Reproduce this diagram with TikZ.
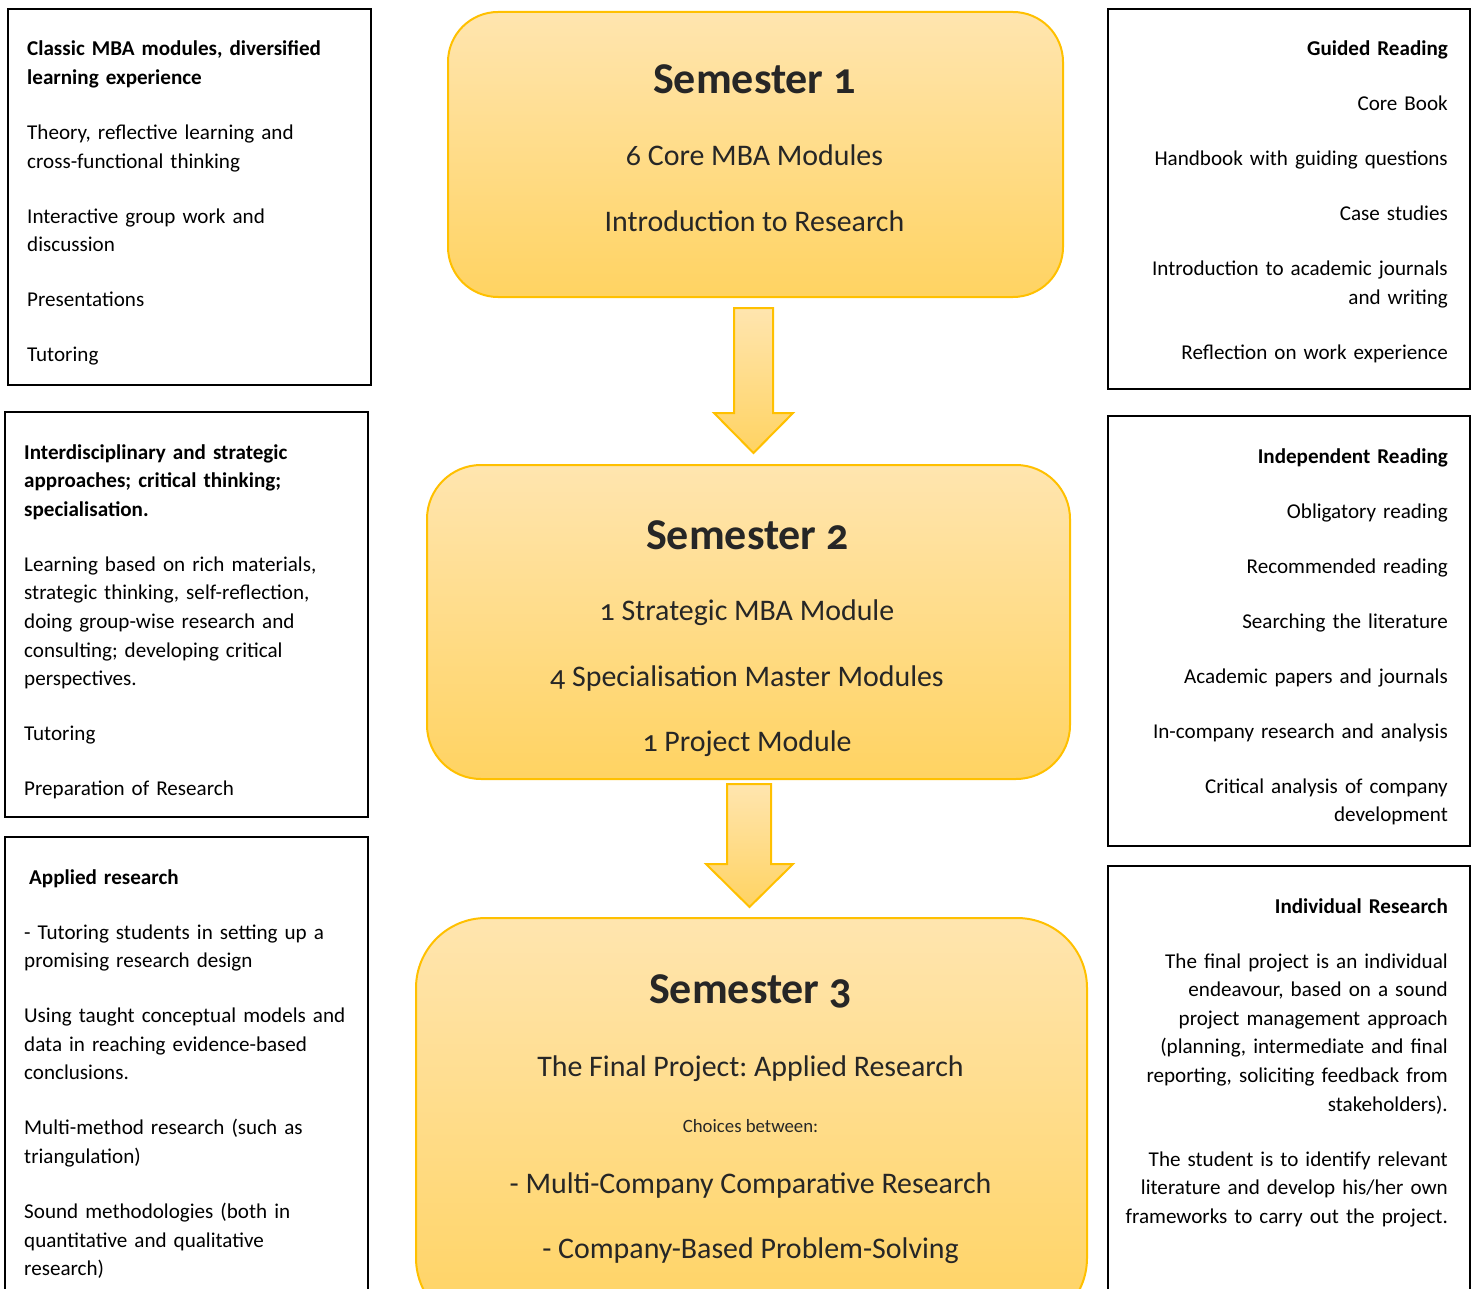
\documentclass[tikz,border=0pt]{standalone}
\usepackage{fontspec}
\setmainfont{Carlito}[Numbers=OldStyle]
\frenchspacing
\definecolor{gold}{RGB}{255,192,0}
\definecolor{gtop}{RGB}{255,229,175}
\definecolor{gbot}{RGB}{255,211,98}
\definecolor{ink}{RGB}{38,38,38}
\tikzset{
  boxst/.style={draw=black, line width=2pt, rectangle, inner sep=0pt, anchor=north west},
  semst/.style={draw=gold, line width=2pt, rectangle, top color=gtop, bottom color=gbot, inner sep=0pt, anchor=north west},
  arrowst/.style={draw=gold, line width=2pt, top color=gtop, bottom color=gbot, line join=miter},
  ltxt/.style={anchor=base west, inner sep=0pt, text width=340pt, align=left, font=\fontsize{21.1}{28.6}\selectfont, text=black},
  rtxt/.style={anchor=base east, inner sep=0pt, text width=335pt, align=right, font=\fontsize{21.1}{28.6}\selectfont, text=black},
  semtitle/.style={anchor=base, inner sep=0pt, font=\fontsize{44}{50}\selectfont\bfseries, text=ink},
  semline/.style={anchor=base, inner sep=0pt, font=\fontsize{29.9}{34}\selectfont, text=ink},
  semsmall/.style={anchor=base, inner sep=0pt, font=\fontsize{18.8}{22}\selectfont, text=ink}
}
\newcommand{\pgap}{\\[26.4pt]}
\begin{document}
\begin{tikzpicture}[x=1pt,y=-1pt]
\useasboundingbox[fill=white] (0,0) rectangle (1474,1289);

% left boxes
\node[boxst, minimum width=363pt, minimum height=376pt] (L1) at (7,8) {};
\node[boxst, minimum width=363pt, minimum height=405pt] (L2) at (4,411) {};
\node[boxst, minimum width=363pt, minimum height=470pt] (L3) at (4,836) {};
% right boxes
\node[boxst, minimum width=362pt, minimum height=380pt] (R1) at (1107,8) {};
\node[boxst, minimum width=362pt, minimum height=430pt] (R2) at (1107,415) {};
\node[boxst, minimum width=362pt, minimum height=440pt] (R3) at (1107,865) {};

% semester boxes
\node[semst, rounded corners=50pt, minimum width=615pt, minimum height=285pt] (S1) at (447,11) {};
\node[semst, rounded corners=54pt, minimum width=643pt, minimum height=314pt] (S2) at (426,464) {};
\node[semst, rounded corners=70pt, minimum width=671pt, minimum height=410pt] (S3) at (415,917) {};

% block arrows
\draw[arrowst] (734,308) -- (773,308) -- (773,413) -- (793,413) -- (753.5,453) -- (714,413) -- (734,413) -- cycle;
\draw[arrowst] (727,784) -- (771,784) -- (771,864) -- (793,864) -- (749.5,907) -- (706,864) -- (727,864) -- cycle;

% semester texts
\node[semtitle] (S1a) at (754.5,94) {Semester 1};
\node[semline] (S1b) at (754.5,166) {6 Core MBA Modules};
\node[semline] (S1c) at (754.5,232) {Introduction to Research};

\node[semtitle] (S2a) at (747.5,549) {Semester 2};
\node[semline] (S2b) at (747,620) {1 Strategic MBA Module};
\node[semline] (S2c) at (747,686) {4 Specialisation Master Modules};
\node[semline] (S2d) at (747,751) {1 Project Module};

\node[semtitle] (S3a) at (750.5,1003) {Semester 3};
\node[semline] (S3b) at (750.5,1076) {The Final Project: Applied Research};
\node[semsmall] (S3c) at (750.5,1132) {Choices between:};
\node[semline] (S3d) at (750.5,1193) {- Multi-Company Comparative Research};
\node[semline] (S3e) at (750.5,1258) {- Company-Based Problem-Solving};

% left texts
\node[ltxt] (L1t) at (27,56) {\textbf{Classic MBA modules, diversified}\\\textbf{learning experience}\pgap
Theory, reflective learning and\\cross-functional thinking\pgap
Interactive group work and\\discussion\pgap
Presentations\pgap
Tutoring};

\node[ltxt] (L2t) at (24,459) {\textbf{Interdisciplinary and strategic}\\\textbf{approaches; critical thinking;}\\\textbf{specialisation.}\pgap
Learning based on rich materials,\\strategic thinking, self-reflection,\\doing group-wise research and\\consulting; developing critical\\perspectives.\pgap
Tutoring\pgap
Preparation of Research};

\node[ltxt] (L3t) at (24,884) {\hspace*{5pt}\textbf{Applied research}\pgap
- Tutoring students in setting up a\\promising research design\pgap
Using taught conceptual models and\\data in reaching evidence-based\\conclusions.\pgap
Multi-method research (such as\\triangulation)\pgap
Sound methodologies (both in\\quantitative and qualitative\\research)};

% right texts
\node[rtxt] (R1t) at (1448,56) {\textbf{Guided Reading}\pgap
Core Book\pgap
Handbook with guiding questions\pgap
Case studies\pgap
Introduction to academic journals\\and writing\pgap
Reflection on work experience};

\node[rtxt] (R2t) at (1448,463) {\textbf{Independent Reading}\pgap
Obligatory reading\pgap
Recommended reading\pgap
Searching the literature\pgap
Academic papers and journals\pgap
In-company research and analysis\pgap
Critical analysis of company\\development};

\node[rtxt] (R3t) at (1448,913) {\textbf{Individual Research}\pgap
The final project is an individual\\endeavour, based on a sound\\project management approach\\(planning, intermediate and final\\reporting, soliciting feedback from\\stakeholders).\pgap
The student is to identify relevant\\literature and develop his/her own\\frameworks to carry out the project.};
\end{tikzpicture}
\end{document}
